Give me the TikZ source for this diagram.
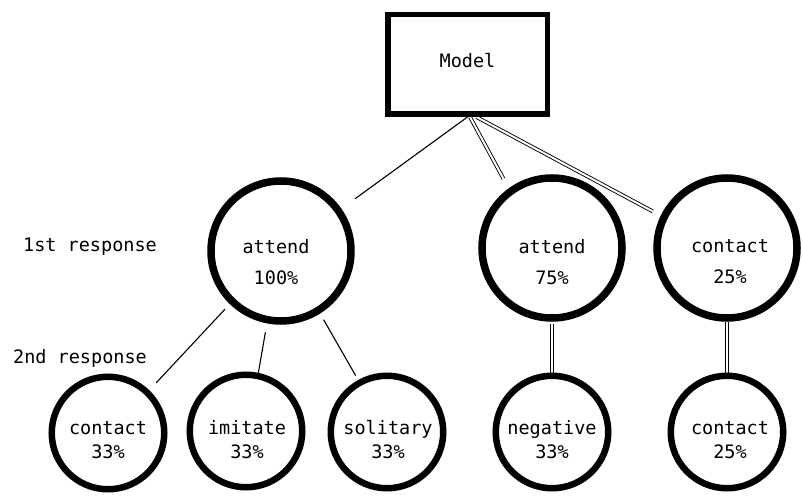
\documentclass[tikz,border=0pt]{standalone}
\usepackage{fontspec}
\setmonofont{DejaVu Sans Mono}
\usetikzlibrary{backgrounds}
\tikzset{
  >=latex,
  % testo
  txt/.style={font=\ttfamily\fontsize{18.5}{22}\selectfont,align=center,inner sep=0},
  % riquadro del modello
  modelbox/.style={txt,draw,line width=5.5pt,minimum width=159.5pt,minimum height=99.5pt,text depth=9pt},
  % cerchi delle risposte
  ring big/.style={circle,draw,line width=7.5pt,minimum size=140pt,inner sep=0},
  ring small/.style={circle,draw,line width=6.5pt,minimum size=112.5pt,inner sep=0},
  % collegamenti
  link/.style={line width=1.1pt},
  link double/.style={double,line width=0.9pt,double distance=2pt}
}
\begin{document}
\begin{tikzpicture}[x=1pt,y=-1pt]
  \useasboundingbox (0,0) rectangle (803,500);
  \node[modelbox] (model) at (467.5,64.5) {Model};
  \node[txt] (first) at (90,247) {1st response};
  \node[txt] (second) at (80,358) {2nd response};
  % 1st response
  \node[ring big] (att1) at (281,251) {};
  \node[ring big] (att2) at (552,248) {};
  \node[ring big] (con1) at (727,248) {};
  \node[txt] (att1 text) at (276,262) {attend\\[9pt]100\%};
  \node[txt] (att2 text) at (552,262) {attend\\[9pt]75\%};
  \node[txt] (con1 text) at (730,262) {contact\\[9pt]25\%};
  % 2nd response
  \node[ring small] (con2) at (108,433) {};
  \node[ring small] (imi) at (246,431) {};
  \node[ring small] (sol) at (387,432) {};
  \node[ring small] (neg) at (552,432) {};
  \node[ring small] (con3) at (727,432) {};
  \node[txt] (con2 text) at (108,440) {contact\\[2pt]33\%};
  \node[txt] (imi text) at (247,440) {imitate\\[2pt]33\%};
  \node[txt] (sol text) at (388,440) {solitary\\[2pt]33\%};
  \node[txt] (neg text) at (552,440) {negative\\[2pt]33\%};
  \node[txt] (con3 text) at (730,440) {contact\\[2pt]25\%};
  \begin{scope}[on background layer]
    \draw[link,shorten >=17pt] (model.south) -- (att1.35);
    \draw[link double,shorten >=11pt] ([xshift=2.5pt]model.south) -- (att2.126);
    \draw[link double,shorten >=9pt] ([xshift=9pt]model.south) -- (con1.154);
    \draw[link,shorten <=7pt,shorten >=10pt] (att1.226) -- (con2.46);
    \draw[link,shorten <=9pt] (att1.259) -- (imi.78);
    \draw[link,shorten <=7pt,shorten >=5pt] (att1.302) -- (sol.119);
    \draw[link double,shorten <=2pt] (att2.south) -- (neg.north);
    \draw[link double,shorten >=-6pt] (con1.south) -- (con3.north);
  \end{scope}
\end{tikzpicture}
\end{document}
